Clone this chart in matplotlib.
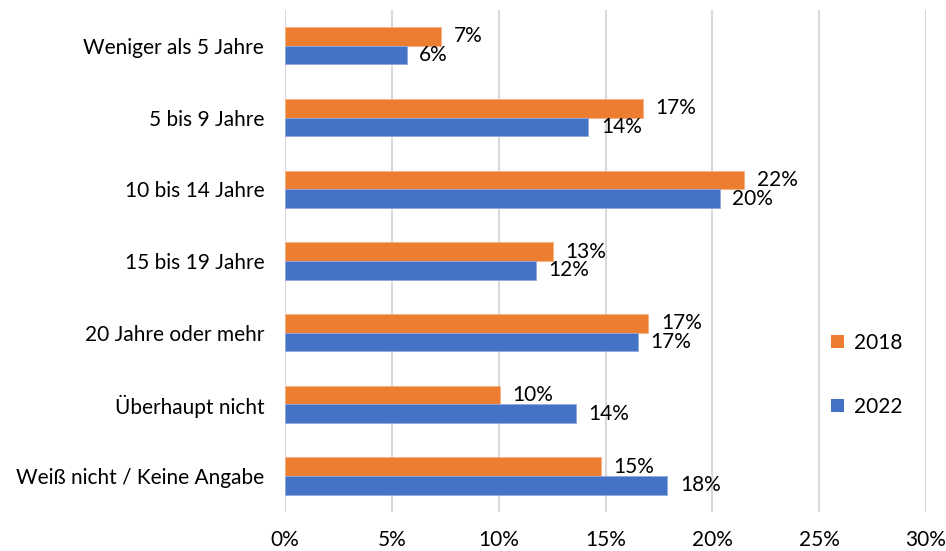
import numpy as np
import matplotlib
matplotlib.use("Agg")
import matplotlib.pyplot as plt
from matplotlib.patches import Patch

categories = ["Weniger als 5 Jahre", "5 bis 9 Jahre", "10 bis 14 Jahre",
              "15 bis 19 Jahre", "20 Jahre oder mehr", "Überhaupt nicht",
              "Weiß nicht / Keine Angabe"]
vals_2018 = [7.3, 16.75, 21.5, 12.55, 17.0, 10.05, 14.8]
vals_2022 = [5.7, 14.2, 20.35, 11.75, 16.5, 13.6, 17.9]
labels_2018 = ["7%", "17%", "22%", "13%", "17%", "10%", "15%"]
labels_2022 = ["6%", "14%", "20%", "12%", "17%", "14%", "18%"]
xticks = [0, 5, 10, 15, 20, 25, 30]

plt.rcParams['font.family'] = ['Lato', 'DejaVu Sans']

orange = "#ED7D31"
blue = "#4472C4"
fs = 15

fig = plt.figure(figsize=(9.46, 5.51), dpi=100)
ax = fig.add_axes([0.3013, 0.0708, 0.6776, 0.9112])

y = np.arange(len(categories))
h = 0.26
b1 = ax.barh(y - h / 2, vals_2018, height=h, color=orange, edgecolor="#F4B183", linewidth=0.6)
b2 = ax.barh(y + h / 2, vals_2022, height=h, color=blue, edgecolor="#8FAADC", linewidth=0.6)

for bar, lab in zip(b1, labels_2018):
    ax.annotate(lab, (bar.get_width(), bar.get_y() + bar.get_height() / 2),
                xytext=(9, 0), textcoords="offset points", va="center", ha="left",
                fontsize=fs, color="#000000")
for bar, lab in zip(b2, labels_2022):
    ax.annotate(lab, (bar.get_width(), bar.get_y() + bar.get_height() / 2),
                xytext=(9, 0), textcoords="offset points", va="center", ha="left",
                fontsize=fs, color="#000000")

ax.set_ylim(len(categories) - 0.5, -0.5)
ax.set_xlim(0, 30)
ax.set_yticks(y)
ax.set_yticklabels(categories, fontsize=fs)
ax.set_xticks(xticks)
ax.set_xticklabels([f"{t}%" for t in xticks], fontsize=fs)
ax.tick_params(axis="y", length=0, pad=15)
ax.tick_params(axis="x", length=0, pad=13)

ax.grid(axis="x", color="#D9D9D9", linewidth=1.5)
ax.set_axisbelow(True)
for s in ax.spines.values():
    s.set_visible(False)

handles = [Patch(facecolor=orange), Patch(facecolor=blue)]
fig.legend(handles, ["2018", "2022"], loc="center left",
           bbox_to_anchor=(0.859, 0.320), frameon=False, fontsize=fs,
           handlelength=0.6, handleheight=0.6, handletextpad=0.5,
           labelspacing=2.1)

fig.savefig("out.png", dpi=100)
